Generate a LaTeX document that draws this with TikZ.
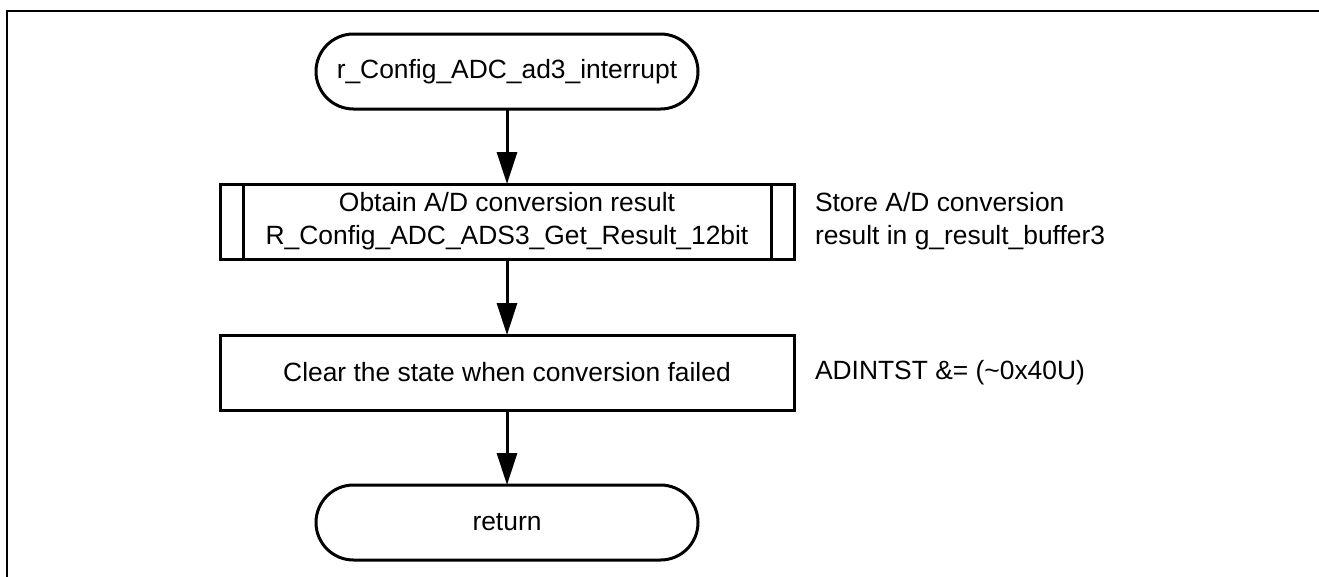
\documentclass[tikz,border=0pt]{standalone}
\usepackage{fontspec}
\setmainfont{Liberation Sans}
\usetikzlibrary{arrows.meta}
\begin{document}
\begin{tikzpicture}[x=1pt,y=-1pt,
  every node/.style={font=\fontsize{26.4}{33}\selectfont, outer sep=0pt},
  terminal/.style={draw, line width=3pt, rounded corners=37.5pt,
    minimum width=382pt, minimum height=75pt, inner sep=0pt},
  procbox/.style={draw, line width=3pt, minimum width=574pt,
    minimum height=75pt, inner sep=0pt, align=center},
  flow/.style={line width=3pt, -{Triangle[length=32pt,width=20pt]}},
  note/.style={anchor=west, align=left, inner sep=0pt}]
  \useasboundingbox (0,0) rectangle (1319,576);
  \begin{scope}
    \clip (0,0) rectangle (1319,576);
    % page frame
    \draw[line width=2.5pt] (7,11) rectangle (1345,600);
  \end{scope}

  % flow nodes
  \node[terminal] (start) at (507,71.5) {r\_Config\_ADC\_ad3\_interrupt};
  \node[procbox] (get) at (507,221.5)
    {Obtain A/D conversion result\\R\_Config\_ADC\_ADS3\_Get\_Result\_12bit};
  \draw[line width=3pt] ([xshift=23pt]get.north west) -- ([xshift=23pt]get.south west);
  \draw[line width=3pt] ([xshift=-23pt]get.north east) -- ([xshift=-23pt]get.south east);
  \node[procbox] (clr) at (507,372.5) {Clear the state when conversion failed};
  \node[terminal] (ret) at (507,522.5) {return};

  % side comments
  \node[note] (getnote) at (815,221.5)
    {Store A/D conversion\\result in g\_result\_buffer3};
  \node[note] (clrnote) at (815,372.5) {ADINTST \&= (\textasciitilde 0x40U)};

  % connectors
  \draw[flow] (start) -- (get);
  \draw[flow] (get) -- (clr);
  \draw[flow] (clr) -- (ret);
\end{tikzpicture}
\end{document}
